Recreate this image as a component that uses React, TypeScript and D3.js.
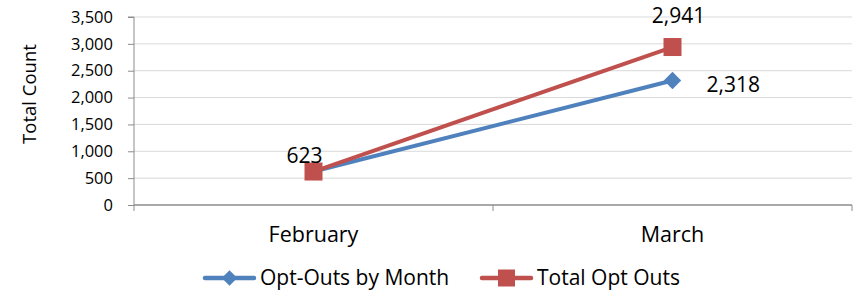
import * as d3 from 'd3';
import { useEffect, useRef } from 'react';

const months = ['February', 'March'];
const optOutsByMonth = [623, 2318];
const totalOptOuts = [623, 2941];
const yTicks = [0, 500, 1000, 1500, 2000, 2500, 3000, 3500];

const BLUE = '#4F81BD';
const RED = '#C0504D';
const FONT = 'Open Sans, Liberation Sans, sans-serif';

const App = () => {
  const svgRef = useRef<SVGSVGElement>(null);

  useEffect(() => {
    const svg = d3.select(svgRef.current);
    svg.selectAll('*').remove();

    const left = 134;
    const right = 852;
    const top = 17;
    const bottom = 205;

    const x = d3.scaleBand().domain(months).range([left, right]);
    const y = d3.scaleLinear().domain([0, 3500]).range([bottom, top]);
    const cx = (m: string) => (x(m) as number) + x.bandwidth() / 2;

    // gridlines
    svg.append('g')
      .selectAll('line')
      .data(yTicks.slice(1))
      .join('line')
      .attr('x1', left)
      .attr('x2', right)
      .attr('y1', d => y(d))
      .attr('y2', d => y(d))
      .attr('stroke', '#d9d9d9')
      .attr('stroke-width', 1);

    // y axis
    const yAxis = d3.axisLeft(y).tickValues(yTicks).tickSize(6).tickPadding(15).tickFormat(d3.format(','));
    svg.append('g')
      .attr('transform', `translate(${left},0)`)
      .call(yAxis)
      .call(g => g.selectAll('line, path').attr('stroke', '#8c8c8c'))
      .call(g => g.select('.domain').attr('d', `M-6,${top}H0V${bottom}`))
      .call(g => g.selectAll('text').attr('font-family', FONT).attr('font-size', 16.5).attr('fill', '#000'));

    // x axis
    svg.append('line')
      .attr('x1', left).attr('x2', right)
      .attr('y1', bottom).attr('y2', bottom)
      .attr('stroke', '#8c8c8c').attr('stroke-width', 1.5);
    svg.append('g')
      .selectAll('line')
      .data([left, left + x.bandwidth(), right])
      .join('line')
      .attr('x1', d => d).attr('x2', d => d)
      .attr('y1', bottom).attr('y2', bottom + 6)
      .attr('stroke', '#8c8c8c');
    svg.append('g')
      .selectAll('text')
      .data(months)
      .join('text')
      .attr('x', d => cx(d))
      .attr('y', 242)
      .attr('text-anchor', 'middle')
      .attr('font-family', FONT)
      .attr('font-size', 21.5)
      .text(d => d);

    // y label
    svg.append('text')
      .attr('transform', 'translate(36,94) rotate(-90)')
      .attr('text-anchor', 'middle')
      .attr('font-family', FONT)
      .attr('font-size', 18.5)
      .text('Total Count');

    const line = d3.line<number>().x((_, i) => cx(months[i])).y(d => y(d));
    // diamond = square turned 45°
    const diamond = d3.symbol(d3.symbolSquare, 150);

    // blue series
    svg.append('path').datum(optOutsByMonth)
      .attr('d', line).attr('fill', 'none').attr('stroke', BLUE).attr('stroke-width', 4);
    svg.append('g').selectAll('path').data(optOutsByMonth).join('path')
      .attr('d', diamond)
      .attr('transform', (d, i) => `translate(${cx(months[i])},${y(d)}) rotate(45)`)
      .attr('fill', BLUE);

    // red series
    svg.append('path').datum(totalOptOuts)
      .attr('d', line).attr('fill', 'none').attr('stroke', RED).attr('stroke-width', 4);
    svg.append('g').selectAll('rect').data(totalOptOuts).join('rect')
      .attr('x', (d, i) => cx(months[i]) - 9)
      .attr('y', d => y(d) - 9)
      .attr('width', 18).attr('height', 18)
      .attr('fill', RED);

    // data labels
    const labelFmt = d3.format(',');
    const labels = [
      { text: labelFmt(totalOptOuts[0]), x: cx(months[0]) - 9, y: y(totalOptOuts[0]) - 9, anchor: 'middle' },
      { text: labelFmt(totalOptOuts[1]), x: cx(months[1]) + 6, y: y(totalOptOuts[1]) - 24, anchor: 'middle' },
      { text: labelFmt(optOutsByMonth[1]), x: cx(months[1]) + 34, y: y(optOutsByMonth[1]) + 12, anchor: 'start' }
    ];
    svg.append('g').selectAll('text').data(labels).join('text')
      .attr('x', d => d.x).attr('y', d => d.y)
      .attr('text-anchor', d => d.anchor)
      .attr('font-family', FONT).attr('font-size', 21)
      .text(d => d.text);

    // legend
    const legend = [
      { name: 'Opt-Outs by Month', color: BLUE, x: 205, shape: 'diamond' },
      { name: 'Total Opt Outs', color: RED, x: 482, shape: 'square' }
    ];
    const lg = svg.append('g').selectAll('g').data(legend).join('g')
      .attr('transform', d => `translate(${d.x},278)`);
    lg.append('line').attr('x1', 0).attr('x2', 49).attr('y1', 0).attr('y2', 0)
      .attr('stroke', d => d.color).attr('stroke-width', 4.5).attr('stroke-linecap', 'round');
    lg.filter(d => d.shape === 'diamond').append('path')
      .attr('d', d3.symbol(d3.symbolSquare, 120))
      .attr('transform', 'translate(24.5,0) rotate(45)')
      .attr('fill', d => d.color);
    lg.filter(d => d.shape === 'square').append('rect')
      .attr('x', 16).attr('y', -8.5).attr('width', 17).attr('height', 17)
      .attr('fill', d => d.color);
    lg.append('text').attr('x', 55).attr('y', 7)
      .attr('font-family', FONT).attr('font-size', 21)
      .text(d => d.name);
  }, []);

  return (
    <svg ref={svgRef} width={857} height={290} style={{ position: 'absolute', left: 0, top: 0, background: '#fff' }} />
  );
};

export default App;
